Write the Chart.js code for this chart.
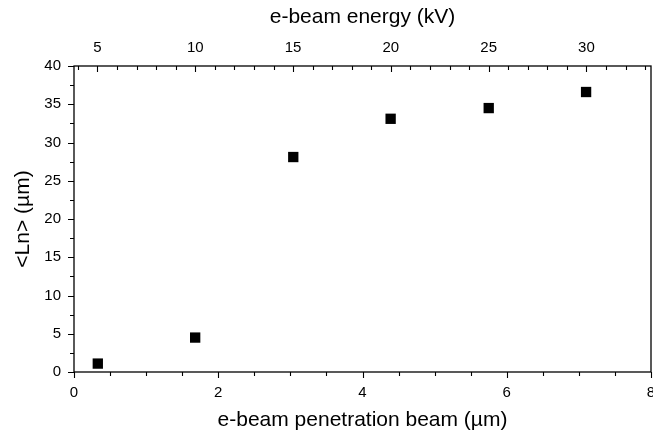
<!DOCTYPE html>
<html>
<head>
<meta charset="utf-8">
<script src="https://cdn.jsdelivr.net/npm/chart.js@4"></script>
<style>
  body { margin: 0; background: #fff; }
  canvas { display: block; }
</style>
</head>
<body>
<canvas id="myChart" width="653" height="439"></canvas>
<script>
// values
const penetration = [0.33, 1.68, 3.04, 4.39, 5.75, 7.10];   // µm, bottom axis
const energy = [5, 10, 15, 20, 25, 30];                      // kV, top axis
const lnValues = [1.1, 4.5, 28.1, 33.1, 34.5, 36.6];         // <Ln> µm

const xTicks = [0, 2, 4, 6, 8];
const yTicks = [0, 5, 10, 15, 20, 25, 30, 35, 40];
const energyMin = 3.8;
const energyMax = 33.3;

const fontFamily = '"Liberation Sans", Arial, sans-serif';

// frame + major/minor tick marks drawn along the chart's own scales
const tickMarks = {
  id: 'tickMarks',
  afterDraw(chart) {
    const ctx = chart.ctx;
    const a = chart.chartArea;
    const { x, x2, y } = chart.scales;
    ctx.save();
    ctx.strokeStyle = '#000';
    ctx.lineWidth = 1.3;
    ctx.strokeRect(a.left, a.top, a.right - a.left, a.bottom - a.top);

    ctx.lineWidth = 1.1;
    ctx.beginPath();
    // bottom axis, outward
    for (let v = 0; v <= 8; v += 0.5) {
      const px = Math.round(x.getPixelForValue(v)) + 0.5;
      const len = v % 2 === 0 ? 6 : 4;
      ctx.moveTo(px, a.bottom);
      ctx.lineTo(px, a.bottom + len);
    }
    // top axis, inward
    for (let v = 4; v <= 33; v += 1) {
      const px = Math.round(x2.getPixelForValue(v)) + 0.5;
      const len = v % 5 === 0 ? 6 : 4;
      ctx.moveTo(px, a.top);
      ctx.lineTo(px, a.top + len);
    }
    // left axis, outward
    for (let v = 0; v <= 40; v += 2.5) {
      const py = Math.round(y.getPixelForValue(v)) + 0.5;
      const len = v % 5 === 0 ? 6 : 4;
      ctx.moveTo(a.left, py);
      ctx.lineTo(a.left - len, py);
    }
    ctx.stroke();
    ctx.restore();
  }
};

const ctx = document.getElementById('myChart').getContext('2d');
new Chart(ctx, {
  type: 'scatter',
  data: {
    datasets: [{
      label: '<Ln>',
      data: penetration.map((v, i) => ({ x: v, y: lnValues[i] })),
      xAxisID: 'x',
      yAxisID: 'y',
      pointStyle: 'rect',
      pointRadius: 7.3,
      pointBorderWidth: 0,
      backgroundColor: '#000',
      borderColor: '#000'
    }]
  },
  options: {
    responsive: false,
    animation: false,
    layout: { autoPadding: false, padding: { left: 0, right: 2, top: 0, bottom: 0 } },
    plugins: {
      legend: { display: false },
      tooltip: { enabled: false }
    },
    scales: {
      x: {
        type: 'linear',
        position: 'bottom',
        min: 0,
        max: 8,
        afterBuildTicks: s => { s.ticks = xTicks.map(v => ({ value: v })); },
        afterFit: s => { s.height = 67; s.paddingLeft = 0; s.paddingRight = 0; },
        grid: { display: false, drawTicks: false },
        border: { display: false },
        ticks: { color: '#000', padding: 12, maxRotation: 0, font: { family: fontFamily, size: 15 } },
        title: {
          display: true,
          text: 'e-beam penetration beam (µm)',
          color: '#000',
          padding: { top: 0, bottom: 6 },
          font: { family: fontFamily, size: 21 }
        }
      },
      x2: {
        type: 'linear',
        position: 'top',
        min: energyMin,
        max: energyMax,
        afterBuildTicks: s => { s.ticks = energy.map(v => ({ value: v })); },
        afterFit: s => { s.height = 66; s.paddingLeft = 0; s.paddingRight = 0; },
        grid: { display: false, drawTicks: false },
        border: { display: false },
        ticks: { color: '#000', padding: 9, maxRotation: 0, font: { family: fontFamily, size: 15 } },
        title: {
          display: true,
          text: 'e-beam energy (kV)',
          color: '#000',
          padding: { top: 4.5, bottom: 0 },
          font: { family: fontFamily, size: 21 }
        }
      },
      y: {
        type: 'linear',
        position: 'left',
        min: 0,
        max: 40,
        afterBuildTicks: s => { s.ticks = yTicks.map(v => ({ value: v })); },
        afterFit: s => { s.width = 74; },
        grid: { display: false, drawTicks: false },
        border: { display: false },
        ticks: { color: '#000', padding: 13, font: { family: fontFamily, size: 15 } },
        title: {
          display: true,
          text: '<Ln> (µm)',
          color: '#000',
          padding: { top: 10.5, bottom: 0 },
          font: { family: fontFamily, size: 21 }
        }
      }
    }
  },
  plugins: [tickMarks]
});
</script>
</body>
</html>
